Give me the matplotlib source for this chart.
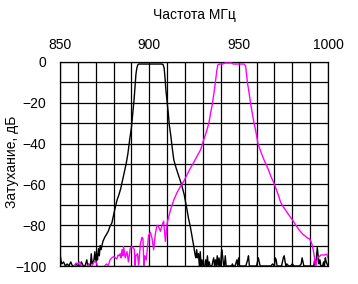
import matplotlib
matplotlib.use("Agg")
import matplotlib.pyplot as plt
import numpy as np

plt.rcParams['font.family'] = ['Liberation Sans', 'DejaVu Sans']

# --- data ---
title_text = "Частота МГц"
ylabel_text = "Затухание, дБ"
x_major = [850, 900, 950, 1000]
y_major = [0, -20, -40, -60, -80, -100]

black_f = [850, 850.5, 851, 852, 853, 854, 855, 856, 857, 858, 859, 860, 861, 862, 863, 864,
           865, 865.5, 866, 867, 867.5, 868, 869, 869.5, 870, 870.5, 871, 871.5, 872, 872.5,
           873, 874, 875, 876, 877, 878, 879, 880, 881, 882, 883, 884, 885, 886, 887, 888,
           889, 890, 891, 891.5, 892, 892.5, 893, 893.5, 894, 895, 906, 907, 907.7, 908.3,
           908.8, 909.3, 910, 910.6, 911.2, 912, 912.8, 913.7, 915, 916.5, 918, 919.5, 921,
           922, 923, 924, 925, 925.5, 926, 926.5, 927, 927.5,
           928, 928.5, 929, 929.5, 930, 931, 931.5, 932, 932.5, 933, 933.5, 934, 935, 935.5,
           936, 936.5, 937, 937.5, 938, 938.5, 939, 939.5, 940, 940.5, 941, 941.5, 942, 942.5,
           943, 944, 945, 946, 946.5, 947, 948, 949, 949.5, 950, 950.5, 951, 952, 953, 954,
           955, 955.5, 956, 957, 958, 959, 960, 961, 961.5, 962, 963, 964, 965, 966, 967, 968,
           969, 970, 970.5, 971, 971.5, 972, 973, 974, 975, 975.5, 976, 976.5, 977, 978, 979,
           980, 981, 982, 983, 984, 985, 985.5, 986, 986.5, 987, 988, 989, 990, 991, 992,
           992.5, 993, 993.5, 994, 994.5, 995, 995.5, 996, 997, 997.5, 998, 998.5, 999, 999.5, 1000]
black_db = [-94, -97, -99, -98, -100, -99, -100, -98, -100, -100, -99, -100, -100, -98, -100, -100,
            -97, -100, -99, -100, -94, -99, -97, -93, -98, -94, -97, -91.5, -95, -90,
            -92, -88, -86, -84.5, -83, -80.5, -79, -75, -71, -67.5, -65, -62, -58, -54, -50, -45,
            -38, -32, -23, -18, -12, -6, -3, -1.5, -1, -1, -1, -1, -1.3, -3,
            -8, -14, -20, -25, -31, -36, -42, -48, -52, -56, -60, -65, -72,
            -77, -81, -86, -91, -94, -96, -92, -96, -94,
            -100, -93, -100, -97, -100, -100, -97, -100, -95, -100, -98, -100, -100, -98,
            -96, -100, -97, -100, -95, -100, -96, -100, -98, -92, -95, -99, -100, -95,
            -100, -100, -100, -100, -99, -100, -100, -97, -100, -96, -100, -100, -100, -100, -100,
            -97, -95, -100, -100, -100, -100, -100, -96, -98, -100, -100, -100, -100, -100, -100, -100,
            -99, -100, -96, -97, -100, -100, -100, -100, -96, -95, -98, -100, -99, -100, -100,
            -99, -100, -100, -100, -100, -99, -96, -98, -100, -100, -100, -100, -100, -100, -100,
            -97, -100, -96, -91, -95, -99, -97, -100, -100, -98, -100, -96, -98, -99, -100]

mag_f = [850, 857, 858, 859, 860, 861, 862, 863, 865, 866, 867, 868, 869, 870, 871, 872, 874,
         875, 876, 877, 878, 879, 880, 881, 881.8, 882.5, 883.2, 883.7, 884.2, 884.7, 885.2,
         885.6, 886.5, 887.5, 888.3, 889.3, 890.3, 891, 891.6, 892, 892.4, 893.4, 894, 895,
         895.9, 896.4, 897, 897.5, 898.3, 899, 899.6, 900.6, 901.5, 902.4, 903.4, 904.3, 905.2,
         906.2, 907.1, 908, 909, 910, 910.5, 912, 913.7, 915.5, 917.4, 919.3, 921.2, 923, 925,
         926.8, 928.7, 930.5, 932, 933.3, 934.3, 935.2, 936.2, 937.1, 937.8, 938.4, 939.5, 941,
         942.5, 946, 947, 953, 953.9, 954.9, 955.8, 956.7, 957.6, 958.6, 959.6, 960.8, 962,
         963.3, 964.2, 966.5, 968, 969.8, 971.7, 973.6, 975, 976.5, 978.5, 980.2, 982, 983.9,
         986, 987.5, 988.6, 989.5, 990.5, 991.4, 992.3, 992.9, 993.5, 994.2, 995.2, 996, 998,
         999.4, 999.8, 1000]
mag_db = [-102, -102, -100, -98.5, -99, -98, -100, -101, -101, -99, -101, -100, -98, -97.5, -100, -101, -101,
          -100, -99, -100, -97, -96, -95.4, -96, -96.5, -94.6, -95, -94, -96, -92, -95,
          -90.5, -96, -93, -98, -91.3, -90.5, -91, -92, -100, -95, -94, -100, -89,
          -86, -86.5, -100, -95, -97, -90.5, -85, -83.5, -86.4, -92, -84, -80, -80.7,
          -83, -80, -78, -88, -79, -77, -72, -67.6, -64, -61, -58.5, -55, -52, -49,
          -46, -43, -38, -34, -30, -25, -21, -15, -9, -4, -1.3, -1, -1,
          -0.5, -0.5, -1, -1, -2, -10, -15, -20.5, -25, -30, -34, -40, -43,
          -46, -48, -52.5, -56, -59.5, -64, -69, -71, -73, -75.5, -77.5, -80, -82.4,
          -84.5, -85.5, -86.4, -86.5, -88, -90.5, -95, -100, -99, -96, -95.4, -94.6, -94.6,
          -94.2, -96, -96]

fig = plt.figure(figsize=(3.58, 2.84), dpi=100)
fig.patch.set_facecolor('white')
ax = fig.add_axes([60 / 358, 1 - 266 / 284, 268 / 358, 204 / 284])

ax.plot(black_f, black_db, color='black', lw=1.0, zorder=3)
ax.plot(mag_f, mag_db, color='#ff00ff', lw=1.0, zorder=4)

ax.set_xlim(850, 1000)
ax.set_ylim(-100, 0)
ax.xaxis.tick_top()
ax.set_xticks(x_major)
ax.set_xticks(np.arange(850, 1001, 10), minor=True)
ax.set_yticks(y_major)
ax.set_yticks(np.arange(-100, 1, 10), minor=True)
ax.grid(which='both', color='black', lw=0.9)
ax.set_axisbelow(True)
ax.tick_params(which='both', length=0, labelsize=10)
ax.tick_params(axis='x', pad=7)
ax.tick_params(axis='y', pad=10)
for s in ax.spines.values():
    s.set_color('black')
    s.set_linewidth(0.9)

fig.text(194 / 358, 1 - 15 / 284, title_text, ha='center', va='center', fontsize=10)
fig.text(12 / 358, 1 - 162 / 284, ylabel_text, ha='center', va='center', rotation=90, fontsize=10)

fig.savefig('out.png', dpi=100)
